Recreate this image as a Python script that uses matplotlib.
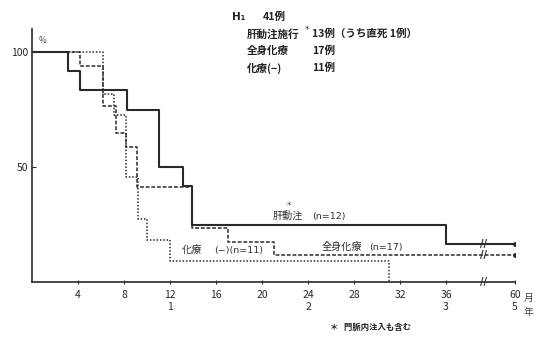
import numpy as np
import matplotlib
matplotlib.use("Agg")
import matplotlib.pyplot as plt

plt.rcParams['font.family'] = ['Noto Sans CJK JP', 'DejaVu Sans']

# survival steps (months, %)
hepatic_t = [0, 3.1, 4.2, 8.3, 11.0, 13.1, 13.9, 36.0, 60]
hepatic_s = [100, 91.7, 83.3, 75.0, 50.0, 41.7, 25.0, 16.7, 16.7]

systemic_t = [0, 4.2, 6.2, 7.3, 8.2, 9.1, 13.9, 17.0, 21.0, 60]
systemic_s = [100, 94.1, 76.5, 64.7, 58.8, 41.2, 23.5, 17.6, 11.8, 11.8]

nochemo_t = [0, 6.2, 7.1, 8.2, 9.2, 10.0, 12.0, 31.0]
nochemo_s = [100, 81.8, 72.7, 45.5, 27.3, 18.2, 9.1, 0]

month_ticks = [4, 8, 12, 16, 20, 24, 28, 32, 36, 60]
year_marks = {12: "1", 24: "2", 36: "3", 60: "5"}
brk = 49


def fwd(x):
    x = np.asarray(x, dtype=float)
    return np.where(x <= 36, x, 36 + (x - 36) / 4)


def inv(x):
    x = np.asarray(x, dtype=float)
    return np.where(x <= 36, x, 36 + (x - 36) * 4)


fig = plt.figure(figsize=(5.38, 3.37), dpi=100)
W, H = 538, 337
ax = fig.add_axes([32 / W, 1 - 282 / H, 483 / W, 253 / H])
ax.set_xscale('function', functions=(fwd, inv))
ax.set_xlim(0, 60)
ax.set_ylim(0, 110)

ink = '#2a2a2a'
ax.step(hepatic_t, hepatic_s, where='post', color=ink, lw=1.5)
ax.step(systemic_t, systemic_s, where='post', color=ink, lw=1.1, ls=(0, (2.5, 1.2)))
ax.step(nochemo_t, nochemo_s, where='post', color=ink, lw=1.1, ls=(0, (1, 1.2)))
ax.plot([60, 60], [hepatic_s[-1], systemic_s[-1]], 'o', color=ink, ms=2.5)

# break marks
for yv in [0, hepatic_s[-1], systemic_s[-1]]:
    ax.text(brk, yv, "//", ha='center', va='center', fontsize=7, color=ink,
            fontweight='bold', family='DejaVu Sans', clip_on=False)

for s in ['top', 'right']:
    ax.spines[s].set_visible(False)
for s in ['left', 'bottom']:
    ax.spines[s].set_color(ink)
    ax.spines[s].set_linewidth(1.2)

ax.set_xticks(month_ticks)
ax.set_xticklabels([f"{m}\n{year_marks.get(m, '')}" for m in month_ticks],
                   fontsize=7.5, color='#444', linespacing=1.3)
ax.xaxis.set_minor_locator(plt.NullLocator())
ax.tick_params(axis='x', direction='inout', length=3, width=0.8, colors=ink, pad=4)
ax.set_yticks([50, 100])
ax.set_yticklabels(["50", "100"], fontsize=7.5, color='#444')
ax.tick_params(axis='y', direction='in', length=3, width=0.8, colors=ink, pad=3)

ax.text(0.6, 104, "%", fontsize=6, color='#444')
fig.text(524 / W, 1 - 298 / H, "月", fontsize=7, color='#444', va='center')
fig.text(524 / W, 1 - 312 / H, "年", fontsize=7, color='#444', va='center')

# labels inside plot
lab = dict(fontsize=7.3, color='#333')
ax.text(20.9, 27.5, "肝動注", **lab)
ax.text(22.1, 33, "＊", fontsize=4.5, color='#333')
ax.text(24.4, 27.5, "(n=12)", family='DejaVu Sans', fontsize=6.8, color='#333')
ax.text(25.2, 14, "全身化療", **lab)
ax.text(29.3, 14, "(n=17)", family='DejaVu Sans', fontsize=6.8, color='#333')
ax.text(13.0, 12.5, "化療", **lab)
ax.text(15.8, 12.5, "(−)(n=11)", family='DejaVu Sans', fontsize=6.8, color='#333')

# header block
hdr = dict(fontsize=7.6, fontweight='bold', color='#222', va='center')
fig.text(232 / W, 1 - 17 / H, "H₁", family=['DejaVu Sans'], **hdr)
fig.text(263 / W, 1 - 17 / H, "41例", **hdr)
fig.text(247 / W, 1 - 34 / H, "肝動注施行", **hdr)
fig.text(304 / W, 1 - 28 / H, "＊", fontsize=4.5, color='#222', va='center')
fig.text(312 / W, 1 - 34 / H, "13例（うち直死 1例）", **hdr)
fig.text(247 / W, 1 - 51 / H, "全身化療", **hdr)
fig.text(312 / W, 1 - 51 / H, "17例", **hdr)
fig.text(247 / W, 1 - 68 / H, "化療(−)", **hdr)
fig.text(312 / W, 1 - 68 / H, "11例", **hdr)

fig.text(330 / W, 1 - 327 / H, "＊   門脈内注入も含む", fontsize=6, fontweight='bold',
         color='#222', va='center')

fig.savefig("out.png", dpi=100)
